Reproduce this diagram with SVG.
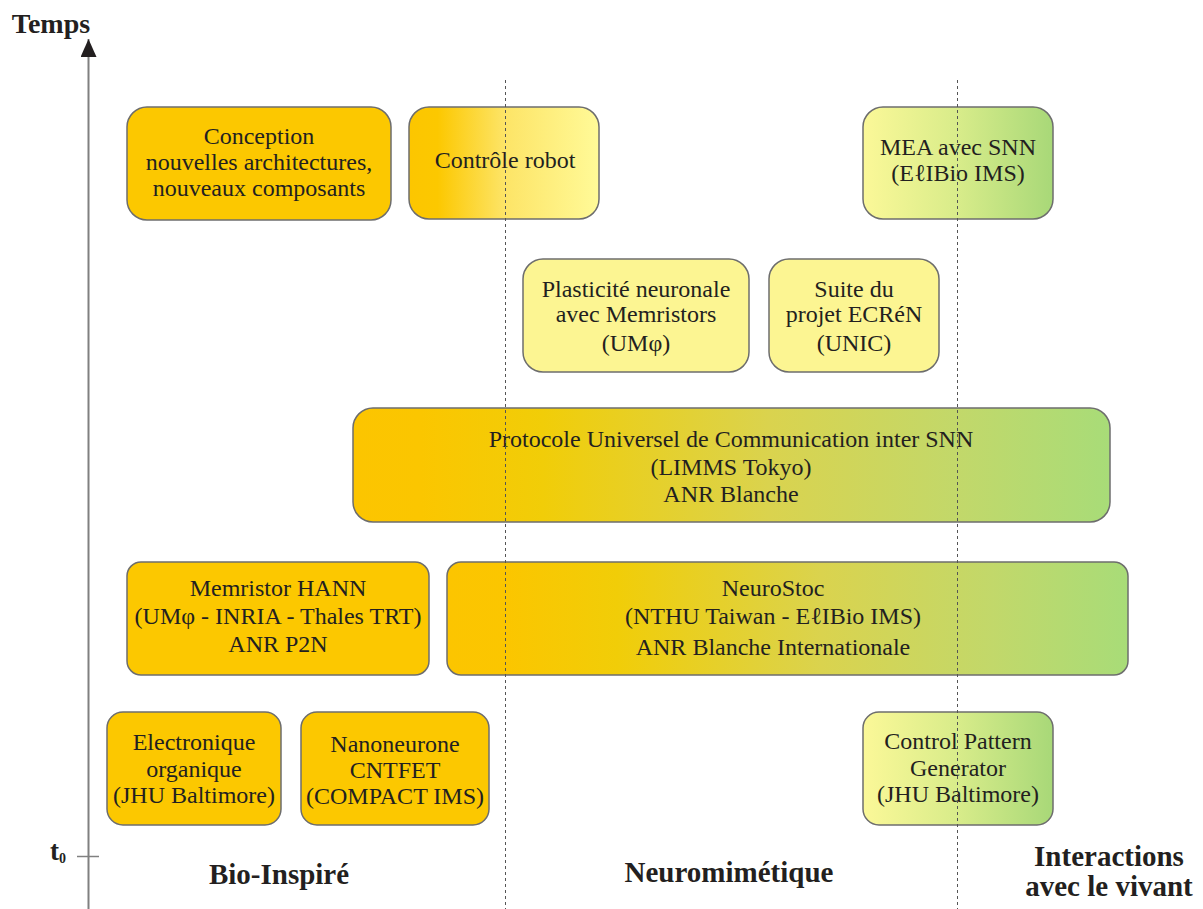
<svg xmlns="http://www.w3.org/2000/svg" width="1203" height="909" viewBox="0 0 1203 909">
<defs>
<linearGradient id="gCtrl" x1="0" y1="0" x2="1" y2="0">
<stop offset="0" stop-color="#fcc600"/><stop offset="0.15" stop-color="#fcc800"/><stop offset="0.5" stop-color="#fde466"/><stop offset="1" stop-color="#fffa98"/>
</linearGradient>
<linearGradient id="gLive" x1="0" y1="0" x2="1" y2="0">
<stop offset="0" stop-color="#fbf898"/><stop offset="0.5" stop-color="#d8ec8a"/><stop offset="1" stop-color="#a8d878"/>
</linearGradient>
<linearGradient id="gWide" x1="0" y1="0" x2="1" y2="0">
<stop offset="0" stop-color="#fcc500"/><stop offset="0.09" stop-color="#fbc600"/><stop offset="0.25" stop-color="#f1cd08"/><stop offset="0.55" stop-color="#dad34e"/><stop offset="0.8" stop-color="#c2d86a"/><stop offset="1" stop-color="#a8dc78"/>
</linearGradient>
<marker id="arr" viewBox="0 0 18 16" refX="18" refY="8" markerWidth="18" markerHeight="16" markerUnits="userSpaceOnUse" orient="auto">
<path d="M0,0 L18,8 L0,16 Z" fill="#231f20"/>
</marker>
</defs>
<style>
.box{stroke:#6d6d6d;stroke-width:1.5}
.org{fill:#fcc800}
.yel{fill:#fcf592}
.t{font-family:"Liberation Serif","Times New Roman",serif;font-size:24px;fill:#231f20;text-anchor:middle}
.b{font-family:"Liberation Serif","Times New Roman",serif;font-weight:bold;font-size:29px;fill:#231f20;text-anchor:middle}
.dot{stroke:#555;stroke-width:1;stroke-dasharray:3,3;fill:none}
</style>
<rect width="1203" height="909" fill="#ffffff"/>

<g id="connectors">
<line x1="88.5" y1="909" x2="88.5" y2="39" stroke="#808080" stroke-width="2" marker-end="url(#arr)"/>
<line x1="77" y1="856.5" x2="99" y2="856.5" stroke="#808080" stroke-width="1.5"/>
</g>

<g id="conception"><rect class="box org" x="127" y="107" width="264" height="113" rx="20"/>
<text class="t" x="259" y="144">Conception</text><text class="t" x="259" y="170">nouvelles architectures,</text><text class="t" x="259" y="196">nouveaux composants</text></g>

<g id="controle"><rect class="box" fill="url(#gCtrl)" x="409" y="107" width="190" height="112" rx="20"/>
<text class="t" x="505" y="168">Contrôle robot</text></g>

<g id="mea"><rect class="box" fill="url(#gLive)" x="863" y="107" width="190" height="112" rx="20"/>
<text class="t" x="958" y="155">MEA avec SNN</text><text class="t" x="958" y="181">(EℓIBio IMS)</text></g>

<g id="plasticite"><rect class="box yel" x="523" y="259" width="226" height="113" rx="20"/>
<text class="t" x="636" y="297">Plasticité neuronale</text><text class="t" x="636" y="322">avec Memristors</text><text class="t" x="636" y="351">(UMφ)</text></g>

<g id="suite"><rect class="box yel" x="769" y="259" width="170" height="113" rx="20"/>
<text class="t" x="854" y="297">Suite du</text><text class="t" x="854" y="322">projet ECRéN</text><text class="t" x="854" y="351">(UNIC)</text></g>

<g id="protocole"><rect class="box" fill="url(#gWide)" x="353" y="408" width="757" height="114" rx="20"/>
<text class="t" x="731" y="447">Protocole Universel de Communication inter SNN</text><text class="t" x="731" y="475">(LIMMS Tokyo)</text><text class="t" x="731" y="502">ANR Blanche</text></g>

<g id="memristor"><rect class="box org" x="127" y="562" width="302" height="113" rx="14"/>
<text class="t" x="278" y="596">Memristor HANN</text><text class="t" x="278" y="624">(UMφ - INRIA - Thales TRT)</text><text class="t" x="278" y="652">ANR P2N</text></g>

<g id="neurostoc"><rect class="box" fill="url(#gWide)" x="447" y="562" width="681" height="113" rx="14"/>
<text class="t" x="773" y="596">NeuroStoc</text><text class="t" x="773" y="624">(NTHU Taiwan - EℓIBio IMS)</text><text class="t" x="773" y="655">ANR Blanche Internationale</text></g>

<g id="electronique"><rect class="box org" x="107" y="712" width="174" height="113" rx="16"/>
<text class="t" x="194" y="750">Electronique</text><text class="t" x="194" y="777">organique</text><text class="t" x="194" y="803">(JHU Baltimore)</text></g>

<g id="nanoneurone"><rect class="box org" x="301" y="712" width="188" height="113" rx="16"/>
<text class="t" x="395" y="752">Nanoneurone</text><text class="t" x="395" y="778">CNTFET</text><text class="t" x="395" y="804">(COMPACT IMS)</text></g>

<g id="cpg"><rect class="box" fill="url(#gLive)" x="863" y="712" width="190" height="113" rx="16"/>
<text class="t" x="958" y="749">Control Pattern</text><text class="t" x="958" y="776">Generator</text><text class="t" x="958" y="802">(JHU Baltimore)</text></g>

<g id="separators">
<line class="dot" x1="505.5" y1="80" x2="505.5" y2="909"/>
<line class="dot" x1="957.5" y1="80" x2="957.5" y2="909"/>
</g>

<g id="labels">
<text class="b" x="51" y="33" style="font-size:28px">Temps</text>
<text font-family="Liberation Serif, serif" font-weight="bold" font-size="27" fill="#231f20" x="50" y="860">t<tspan font-size="14" dy="3">0</tspan></text>
<text class="b" x="279" y="884">Bio-Inspiré</text>
<text class="b" x="729" y="882">Neuromimétique</text>
<text class="b" x="1109" y="866">Interactions</text>
<text class="b" x="1109" y="896">avec le vivant</text>
</g>
</svg>
